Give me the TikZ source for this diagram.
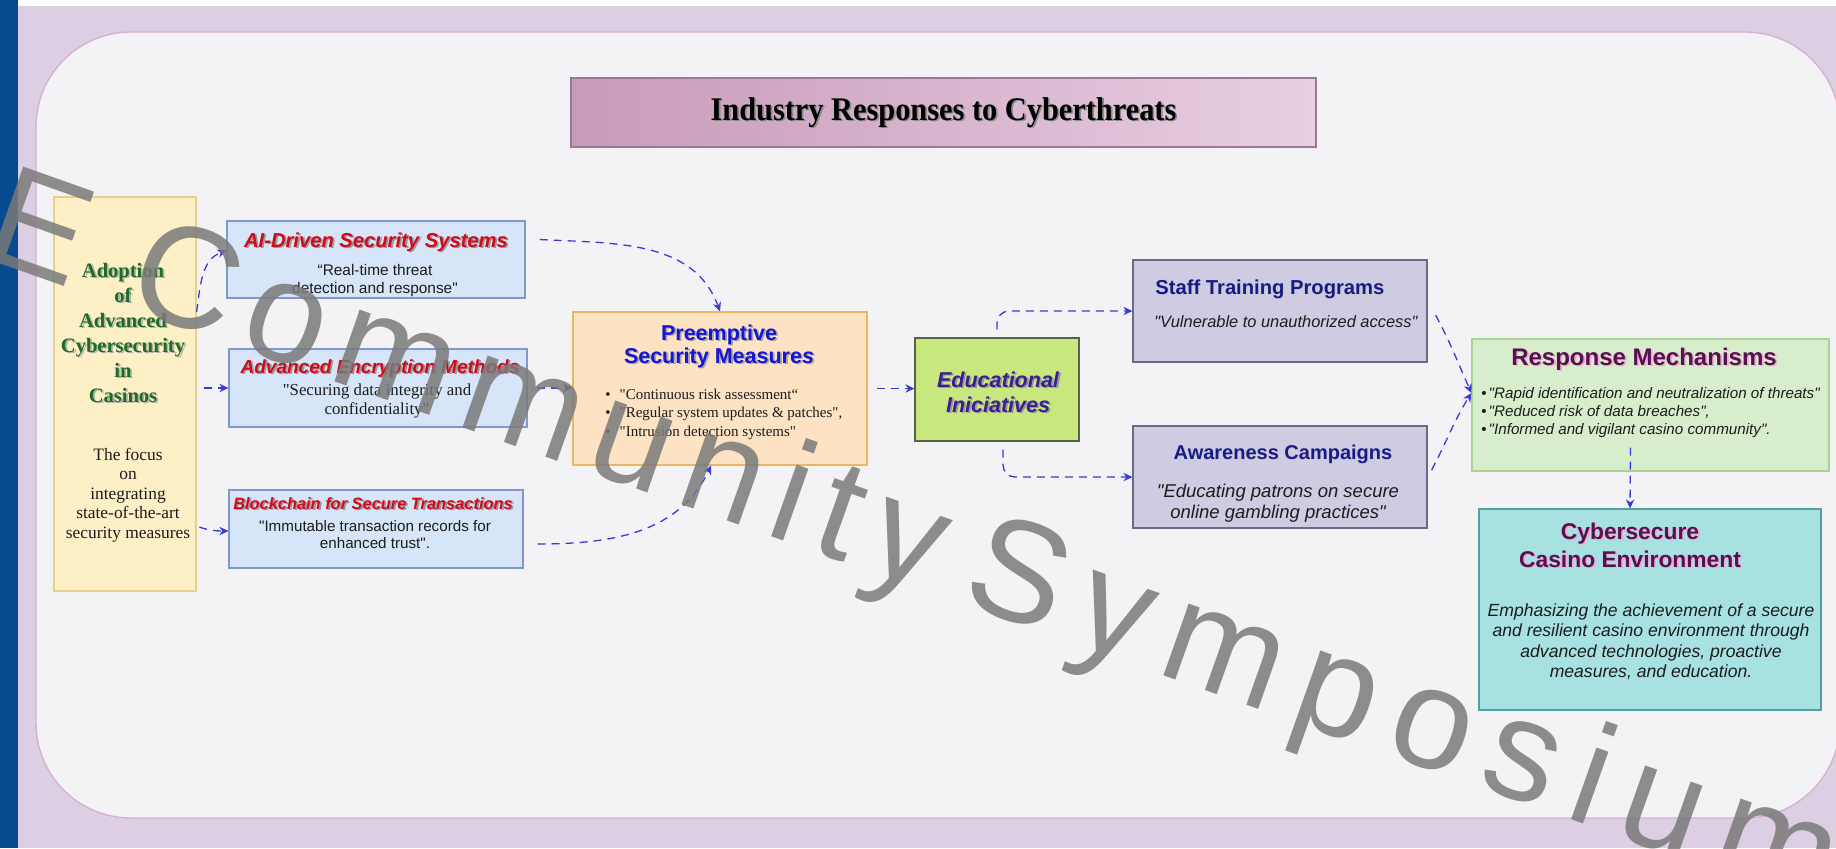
\documentclass[tikz,border=0pt]{standalone}
\usepackage{fontspec}
\usepackage{graphicx}
\setmainfont{Liberation Serif}[Ligatures=TeXOff]
\setsansfont{Liberation Sans}[Ligatures=TeXOff]
\newfontfamily\wmfont[LetterSpace=11]{Liberation Sans}
\usetikzlibrary{arrows.meta,fit}
\definecolor{bluebar}{HTML}{064A8F}
\definecolor{lav}{HTML}{DCCFE4}
\definecolor{panel}{HTML}{F3F3F5}
\definecolor{panelb}{HTML}{D7B0D3}
\definecolor{titl}{HTML}{C89AB9}
\definecolor{titr}{HTML}{E8CFE1}
\definecolor{titb}{HTML}{9C7898}
\definecolor{yelf}{HTML}{FDF0C6}
\definecolor{yelb}{HTML}{E8CF8A}
\definecolor{bluf}{HTML}{D7E5F8}
\definecolor{blub}{HTML}{8298CA}
\definecolor{oraf}{HTML}{FDE2C4}
\definecolor{orab}{HTML}{E8B665}
\definecolor{grnf}{HTML}{C8E87E}
\definecolor{grnb}{HTML}{56604A}
\definecolor{purf}{HTML}{CECBE3}
\definecolor{purb}{HTML}{6C6982}
\definecolor{resf}{HTML}{D8EDCB}
\definecolor{resb}{HTML}{A9D493}
\definecolor{cybf}{HTML}{A7E1E1}
\definecolor{cybb}{HTML}{52A0A0}
\definecolor{arrc}{HTML}{3A3AD8}
\definecolor{redt}{HTML}{D10A1C}
\definecolor{grnt}{HTML}{1F6B21}
\definecolor{bluet}{HTML}{1515D2}
\definecolor{edut}{HTML}{3A1F8F}
\definecolor{navyt}{HTML}{18198A}
\definecolor{magt}{HTML}{561150}
\definecolor{bodyt}{HTML}{1C1C1C}
\newcommand{\shd}[2][black!30]{\leavevmode\rlap{\kern0.9pt\raisebox{-0.9pt}{\color{#1}#2}}#2}
\newcommand{\fs}[2]{\fontsize{#1}{#2}\selectfont}
\begin{document}
\begin{tikzpicture}[x=0.5pt,y=-0.5pt,
  box/.style={inner sep=0pt, line width=0.6pt},
  txt/.style={anchor=base, inner sep=0pt, align=center, text=bodyt},
  ltxt/.style={anchor=base west, inner sep=0pt, align=left, text=bodyt},
  arr/.style={draw=arrc, line width=0.65pt, dash pattern=on 4pt off 3pt, -{Stealth[length=4.5pt,width=4.2pt]}}]
\useasboundingbox (0,0) rectangle (1836,848);
\clip (0,0) rectangle (1836,848);
\fill[lav] (18,6) rectangle (1836,848);
\fill[white] (18,0) rectangle (1836,6);
\fill[bluebar] (0,0) rectangle (18,848);
\draw[draw=panelb, line width=0.7pt, fill=panel, rounded corners=47.5pt] (36,32) rectangle (1840,818);

% title
\node[box, fit={(571,78) (1316,147)}, left color=titl, right color=titr, draw=titb] (title) {};
\node[txt, text=black, font=\bfseries\fs{16.5pt}{20pt}] (titletxt) at (943.5,120) {\scalebox{0.92}[1]{\shd[black!45]{Industry Responses to Cyberthreats}}};

% yellow
\node[box, fit={(54,197) (196,591)}, fill=yelf, draw=yelb] (yel) {};
\node[txt, text=grnt, font=\bfseries\fs{10.25pt}{12.5pt}] (yeltop) at (123,402) {\shd{Adoption}\\\shd{of}\\\shd{Advanced}\\\shd{Cybersecurity}\\\shd{in}\\\shd{Casinos}};
\node[txt, font=\fs{8.7pt}{9.75pt}] (yelbot) at (128,538) {The focus\\on\\integrating\\state-of-the-art\\security measures};

% AI
\node[box, fit={(227,221) (525,298)}, fill=bluf, draw=blub] (ai) {};
\node[txt, text=redt, font=\sffamily\bfseries\itshape\fs{10.1pt}{12pt}] (aititle) at (376,247) {\shd[black!40]{AI-Driven Security Systems}};
\node[txt, font=\sffamily\fs{7.7pt}{9pt}] (aitext) at (375,293) {“Real-time threat\\detection and response"};

% Encryption
\node[box, fit={(229,349) (527,427)}, fill=bluf, draw=blub] (enc) {};
\node[txt, text=redt, font=\sffamily\bfseries\itshape\fs{9.5pt}{11pt}] (enctitle) at (380,373) {\shd[black!40]{Advanced Encryption Methods}};
\node[txt, font=\fs{8.4pt}{9.5pt}] (enctext) at (377,414) {"Securing data integrity and\\confidentiality"};

% Blockchain
\node[box, fit={(229,490) (523,568)}, fill=bluf, draw=blub] (blk) {};
\node[txt, text=redt, font=\sffamily\bfseries\itshape\fs{8.2pt}{10pt}] (blktitle) at (373,509) {\shd[black!40]{Blockchain for Secure Transactions}};
\node[txt, font=\sffamily\fs{7.6pt}{8.5pt}] (blktext) at (375,548) {"Immutable transaction records for\\enhanced trust".};

% Preemptive
\node[box, fit={(573,312) (867,465)}, fill=oraf, draw=orab] (pre) {};
\node[txt, text=bluet, font=\sffamily\bfseries\fs{10.75pt}{11.5pt}] (pretitle) at (719,363) {\shd[black!35]{Preemptive}\\\shd[black!35]{Security Measure\textit{s}}};
\node[ltxt, font=\fs{7.5pt}{9.25pt}] (prelist) at (605,436) {\textbullet\hspace{4.5pt}"Continuous risk assessment“\\\textbullet\hspace{4.5pt}"Regular system updates \& patches",\\\textbullet\hspace{4.5pt}"Intrusion detection systems"};

% Educational
\node[box, fit={(915,338) (1079,441)}, fill=grnf, draw=grnb] (edu) {};
\node[txt, text=edut, font=\sffamily\bfseries\itshape\fs{10.75pt}{12.5pt}] (edutxt) at (998,412) {\shd[black!40]{Educational}\\\shd[black!40]{Iniciatives}};

% Staff
\node[box, fit={(1133,260) (1427,362)}, fill=purf, draw=purb] (staff) {};
\node[ltxt, text=navyt, font=\sffamily\bfseries\fs{10.1pt}{12pt}] (stafftitle) at (1155,294) {\shd[black!20]{Staff Training Programs}};
\node[ltxt, font=\sffamily\itshape\fs{8.2pt}{10pt}] (stafftext) at (1154,327) {"Vulnerable to unauthorized access"};

% Awareness
\node[box, fit={(1133,426) (1427,528)}, fill=purf, draw=purb] (aw) {};
\node[txt, text=navyt, font=\sffamily\bfseries\fs{10pt}{12pt}] (awtitle) at (1283,459) {\shd[black!20]{Awareness Campaigns}};
\node[txt, font=\sffamily\itshape\fs{9.25pt}{10.5pt}] (awtext) at (1278,518) {"Educating patrons on secure\\online gambling practices"};

% Response
\node[box, fit={(1472,339) (1829,471)}, fill=resf, draw=resb] (resp) {};
\node[txt, text=magt, font=\sffamily\bfseries\fs{12pt}{14pt}] (resptitle) at (1644,365) {\shd[magenta!35]{Response Mechanisms}};
\node[ltxt, font=\sffamily\itshape\fs{7.6pt}{9pt}] (resplist) at (1481,434) {{\upshape\textbullet}\hspace{1pt}"Rapid identification and neutralization of threats"\\{\upshape\textbullet}\hspace{1pt}"Reduced risk of data breaches",\\{\upshape\textbullet}\hspace{1pt}"Informed and vigilant casino community".};

% Cybersecure
\node[box, fit={(1479,509) (1821,710)}, fill=cybf, draw=cybb] (cyb) {};
\node[txt, text=magt, font=\sffamily\bfseries\fs{11.4pt}{14pt}] (cybtitle) at (1630,567) {\shd[magenta!35]{Cybersecure}\\\shd[magenta!35]{Casino Environment}};
\node[txt, font=\sffamily\itshape\fs{8.8pt}{10.25pt}] (cybtext) at (1651,677.5) {Emphasizing the achievement of a secure\\and resilient casino environment through\\advanced technologies, proactive\\measures, and education.};

% connectors
\draw[arr] ([yshift=41pt]yel.east) to[out=82,in=200] ([yshift=4.5pt]ai.west);
\draw[arr, shorten <=3.5pt] (yel.east |- enc.west) -- (enc.west);
\draw[arr, shorten <=1.5pt] ([yshift=-66pt]yel.east) to[out=-20,in=180] ([yshift=-1pt]blk.west);
\draw[arr] ([xshift=7pt,yshift=10pt]ai.east) to[out=-3,in=110] (pre.north);
\draw[arr, shorten <=4.5pt] (enc.east) -- (pre.west |- enc.east);
\draw[arr] ([xshift=7pt,yshift=-7.5pt]blk.east) to[out=0,in=-115] ([xshift=-4.5pt]pre.south);
\draw[arr, shorten <=4.5pt] (pre.east) -- (edu.west |- pre.east);
\draw[arr, rounded corners=6pt] ([yshift=4pt]edu.north) |- (staff.west);
\draw[arr, rounded corners=6pt] ([xshift=3pt,yshift=-4pt]edu.south) |- (aw.west);
\draw[arr] ([xshift=4pt,yshift=-2pt]staff.east) to[out=-62,in=114] ([yshift=6pt]resp.west);
\draw[arr] ([xshift=2pt,yshift=3.5pt]aw.east) to[out=62,in=238] ([yshift=6pt]resp.west);
\draw[arr] ([xshift=-10pt,yshift=12pt]resp.south) -- ([xshift=-10pt]cyb.north);

% watermark
\node[anchor=base west, inner sep=0pt, rotate=-19.5, text=black!52, text opacity=0.85, font=\wmfont\fontsize{72pt}{77pt}\selectfont] (wm) at (-21,256) {E Community\hspace{-12pt} {\addfontfeature{LetterSpace=14}Symposium}};
\end{tikzpicture}
\end{document}
